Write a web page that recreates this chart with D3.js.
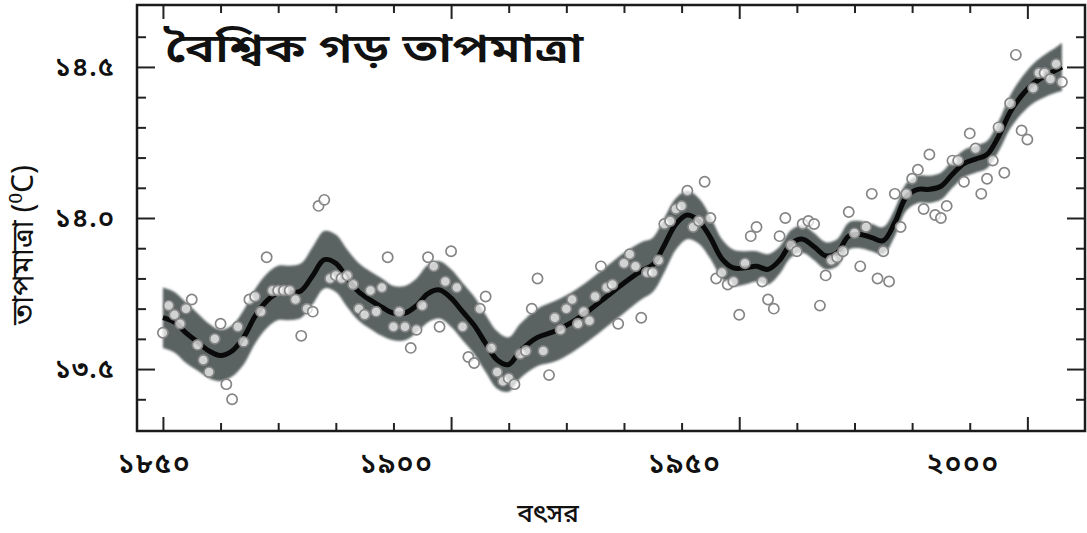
<!DOCTYPE html>
<html>
<head>
<meta charset="utf-8">
<script src="https://cdn.jsdelivr.net/npm/d3@7"></script>
<style>
  body { margin: 0; background: #fff; }
  text { font-family: "Noto Sans Bengali", "Lohit Bengali", "FreeSans", "Noto Sans", sans-serif; fill: #111; }
</style>
</head>
<body>
<script>
// annual global mean temperature (°C), one value per year from firstYear
const firstYear = 1850
const annualTemps = [
  13.62, 13.71, 13.68, 13.65, 13.70, 13.73, 13.58, 13.53, 13.49, 13.60, // 1850s
  13.65, 13.45, 13.40, 13.64, 13.59, 13.73, 13.74, 13.69, 13.87, 13.76, // 1860s
  13.76, 13.76, 13.76, 13.73, 13.61, 13.70, 13.69, 14.04, 14.06, 13.80, // 1870s
  13.81, 13.80, 13.81, 13.78, 13.70, 13.68, 13.76, 13.69, 13.77, 13.87, // 1880s
  13.64, 13.69, 13.64, 13.57, 13.63, 13.71, 13.87, 13.84, 13.64, 13.79, // 1890s
  13.89, 13.77, 13.64, 13.54, 13.52, 13.70, 13.74, 13.57, 13.49, 13.46, // 1900s
  13.47, 13.45, 13.55, 13.56, 13.70, 13.80, 13.56, 13.48, 13.67, 13.63, // 1910s
  13.70, 13.73, 13.65, 13.69, 13.66, 13.74, 13.84, 13.77, 13.78, 13.65, // 1920s
  13.85, 13.88, 13.84, 13.67, 13.82, 13.82, 13.86, 13.98, 13.99, 14.03, // 1930s
  14.04, 14.09, 13.97, 13.99, 14.12, 14.00, 13.80, 13.82, 13.78, 13.79, // 1940s
  13.68, 13.85, 13.94, 13.97, 13.79, 13.73, 13.70, 13.94, 14.00, 13.91, // 1950s
  13.89, 13.98, 13.99, 13.98, 13.71, 13.81, 13.86, 13.87, 13.89, 14.02, // 1960s
  13.95, 13.84, 13.97, 14.08, 13.80, 13.89, 13.79, 14.08, 13.97, 14.08, // 1970s
  14.13, 14.16, 14.03, 14.21, 14.01, 14.00, 14.04, 14.19, 14.19, 14.12, // 1980s
  14.28, 14.23, 14.08, 14.13, 14.19, 14.30, 14.15, 14.38, 14.54, 14.29, // 1990s
  14.26, 14.43, 14.48, 14.48, 14.46, 14.51, 14.45                       // 2000s
]

// smoothed curve, with half width of the shaded range
const smoothYears = [1850, 1852, 1854, 1856, 1858, 1860, 1862, 1864, 1866, 1868,
  1870, 1872, 1874, 1876, 1878, 1880, 1882, 1884, 1886, 1888,
  1890, 1892, 1894, 1896, 1898, 1900, 1902, 1904, 1906, 1908,
  1910, 1912, 1915, 1918, 1921, 1924, 1927, 1930, 1933, 1935,
  1937, 1939, 1941, 1943, 1945, 1947, 1949, 1951, 1953, 1955,
  1957, 1959, 1961, 1963, 1965, 1967, 1969, 1971, 1973, 1975,
  1977, 1979, 1981, 1983, 1985, 1987, 1989, 1991, 1993, 1995,
  1997, 1999, 2001, 2003, 2005, 2006]
const smoothTemps = [13.67, 13.655, 13.62, 13.59, 13.56, 13.545, 13.56, 13.605, 13.675, 13.725,
  13.752, 13.752, 13.76, 13.81, 13.862, 13.85, 13.80, 13.755, 13.728, 13.705,
  13.685, 13.685, 13.71, 13.75, 13.762, 13.735, 13.69, 13.645, 13.585, 13.53,
  13.515, 13.56, 13.605, 13.625, 13.655, 13.695, 13.74, 13.785, 13.825, 13.845,
  13.91, 13.98, 14.01, 13.99, 13.935, 13.865, 13.835, 13.835, 13.84, 13.83,
  13.86, 13.915, 13.93, 13.905, 13.875, 13.885, 13.94, 13.945, 13.935, 13.925,
  13.985, 14.07, 14.095, 14.095, 14.105, 14.145, 14.18, 14.195, 14.21, 14.27,
  14.35, 14.405, 14.445, 14.47, 14.49, 14.50]
const bandHalf = [0.10, 0.10, 0.10, 0.095, 0.09, 0.085, 0.085, 0.09, 0.09, 0.09,
  0.09, 0.09, 0.09, 0.095, 0.095, 0.095, 0.095, 0.095, 0.095, 0.095,
  0.09, 0.09, 0.09, 0.095, 0.095, 0.095, 0.095, 0.095, 0.095, 0.095,
  0.09, 0.09, 0.095, 0.10, 0.10, 0.10, 0.10, 0.10, 0.095, 0.09,
  0.09, 0.085, 0.08, 0.075, 0.07, 0.065, 0.06, 0.055, 0.05, 0.05,
  0.045, 0.045, 0.045, 0.045, 0.045, 0.045, 0.045, 0.045, 0.045, 0.045,
  0.045, 0.045, 0.045, 0.045, 0.045, 0.045, 0.045, 0.045, 0.045, 0.05,
  0.055, 0.06, 0.065, 0.07, 0.075, 0.08]

const xTickYears = [1850, 1900, 1950, 2000]
const xTickLabels = ['১৮৫০', '১৯০০', '১৯৫০', '২০০০']
const yTickTemps = [13.5, 14.0, 14.5]
const yTickLabels = ['১৩.৫', '১৪.০', '১৪.৫']
const titleText = 'বৈশ্বিক গড় তাপমাত্রা'
const xTitle = 'বৎসর'
const yTitle = 'তাপমাত্রা (⁰C)'

const width = 1087, height = 533
const plot = {left: 137, right: 1085, top: 5, bottom: 431}

let svg = d3.select('body')
  .append('svg')
  .attr('width', width)
  .attr('height', height)

let x = d3.scaleLinear().domain([1845.5, 2010]).range([plot.left, plot.right])
let y = d3.scaleLinear().domain([13.295, 14.705]).range([plot.bottom, plot.top])

let smooth = smoothYears.map((yr, i) => ({year: yr, t: smoothTemps[i], h: bandHalf[i]}))
let points = annualTemps.map((t, i) => ({year: firstYear + i, t: t}))

// soft edge on the band
svg.append('defs').append('filter')
  .attr('id', 'soft')
  .append('feGaussianBlur')
  .attr('stdDeviation', 0.8)

// shaded range
svg.append('path')
  .datum(smooth)
  .attr('fill', '#5a6262')
  .attr('filter', 'url(#soft)')
  .attr('d', d3.area()
    .x(d => x(d.year))
    .y0(d => y(d.t - d.h))
    .y1(d => y(d.t + d.h))
    .curve(d3.curveCatmullRom))

// smoothed line
svg.append('path')
  .datum(smooth)
  .attr('fill', 'none')
  .attr('stroke', '#0a0a0a')
  .attr('stroke-width', 5)
  .attr('stroke-linejoin', 'round')
  .attr('d', d3.line()
    .x(d => x(d.year))
    .y(d => y(d.t))
    .curve(d3.curveCatmullRom))

// yearly values
svg.append('g')
  .selectAll('circle')
  .data(points)
  .enter()
  .append('circle')
  .attr('cx', d => x(d.year))
  .attr('cy', d => y(d.t))
  .attr('r', 5.1)
  .attr('fill', 'rgba(255,255,255,0.72)')
  .attr('stroke', '#858585')
  .attr('stroke-width', 1.7)

// ticks pointing inward on all four sides
const xMinor = d3.range(1860, 2001, 10).filter(v => !xTickYears.includes(v))
const yMinor = d3.range(134, 147).map(v => v / 10).filter(v => !yTickTemps.includes(v))

function tickAxis(axisFn, scale, values, size, pos) {
  let g = svg.append('g')
    .attr('transform', pos)
    .call(axisFn(scale).tickValues(values).tickSize(-size).tickFormat(''))
  g.select('.domain').remove()
  g.selectAll('line').attr('stroke', '#222').attr('stroke-width', 2)
  return g
}
tickAxis(d3.axisBottom, x, xTickYears, 14, `translate(0,${plot.bottom})`)
tickAxis(d3.axisBottom, x, xMinor, 8, `translate(0,${plot.bottom})`)
tickAxis(d3.axisTop, x, xTickYears, 14, `translate(0,${plot.top})`)
tickAxis(d3.axisTop, x, xMinor, 8, `translate(0,${plot.top})`)
tickAxis(d3.axisLeft, y, yTickTemps, 18, `translate(${plot.left},0)`)
tickAxis(d3.axisLeft, y, yMinor, 9, `translate(${plot.left},0)`)
tickAxis(d3.axisRight, y, yTickTemps, 18, `translate(${plot.right},0)`)
tickAxis(d3.axisRight, y, yMinor, 9, `translate(${plot.right},0)`)

// frame
svg.append('rect')
  .attr('x', plot.left)
  .attr('y', plot.top)
  .attr('width', plot.right - plot.left)
  .attr('height', plot.bottom - plot.top)
  .attr('fill', 'none')
  .attr('stroke', '#1a1a1a')
  .attr('stroke-width', 2.5)

// tick labels (the source places them a little left of the ticks)
const xLabelShift = [-9, -55, -55, -65]
let xLab = svg.append('g')
  .attr('transform', `translate(0,${plot.bottom})`)
  .call(d3.axisBottom(x).tickValues(xTickYears).tickSize(0).tickPadding(22)
    .tickFormat((d, i) => xTickLabels[i]))
xLab.select('.domain').remove()
xLab.selectAll('text')
  .attr('dx', (d, i) => xLabelShift[i])
  .style('font-size', '28px')
  .style('font-weight', '600')
  .style('letter-spacing', '1.5px')
  .style('fill', '#111')

let yLab = svg.append('g')
  .attr('transform', `translate(${plot.left},0)`)
  .call(d3.axisLeft(y).tickValues(yTickTemps).tickSize(0).tickPadding(22)
    .tickFormat((d, i) => yTickLabels[i]))
yLab.select('.domain').remove()
yLab.selectAll('text')
  .style('font-size', '27px')
  .style('font-weight', '600')
  .style('letter-spacing', '1px')
  .style('fill', '#111')

// titles (title is drawn wide, like the source lettering)
svg.append('text')
  .attr('transform', 'translate(165,62) scale(1.27,1)')
  .style('font-size', '40px')
  .style('font-weight', '600')
  .text(titleText)

svg.append('text')
  .attr('x', 548)
  .attr('y', 522)
  .attr('text-anchor', 'middle')
  .style('font-size', '26px')
  .style('font-weight', '500')
  .text(xTitle)

svg.append('text')
  .attr('transform', 'translate(33,245) rotate(-90)')
  .attr('text-anchor', 'middle')
  .style('font-size', '30px')
  .text(yTitle)
</script>
</body>
</html>
